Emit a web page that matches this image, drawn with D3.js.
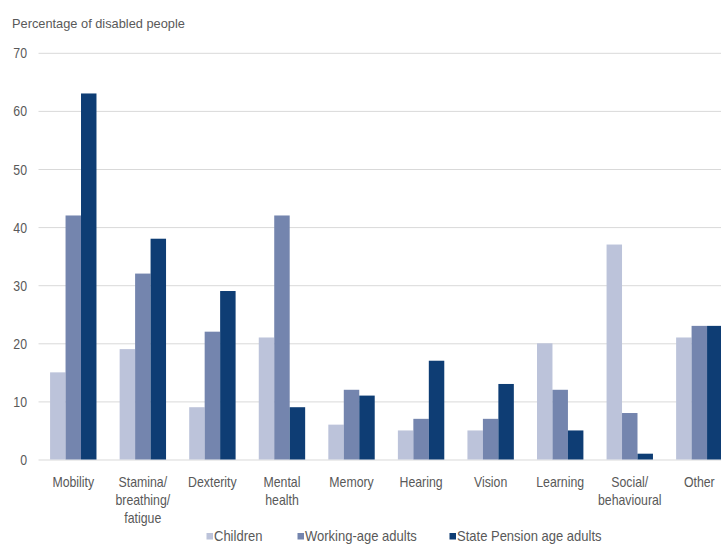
<!DOCTYPE html>
<html>
<head>
<meta charset="utf-8">
<script src="https://cdn.jsdelivr.net/npm/d3@7"></script>
<style>
  html, body { margin: 0; padding: 0; background: #fff; overflow: hidden; }
  svg { display: block; }
  text { font-family: "Liberation Sans", Arial, sans-serif; fill: #595959; }
</style>
</head>
<body>
<svg id="chart" width="721" height="545"></svg>
<script>
// ---- data ----
const categories = ["Mobility", "Stamina/breathing/fatigue", "Dexterity", "Mental health", "Memory", "Hearing", "Vision", "Learning", "Social/behavioural", "Other"];
const categoryLabelLines = [["Mobility"], ["Stamina/", "breathing/", "fatigue"], ["Dexterity"], ["Mental", "health"], ["Memory"], ["Hearing"], ["Vision"], ["Learning"], ["Social/", "behavioural"], ["Other"]];
const seriesNames = ["Children", "Working-age adults", "State Pension age adults"];
const children = [15, 19, 9, 21, 6, 5, 5, 20, 37, 21];
const workingAge = [42, 32, 22, 42, 12, 7, 7, 12, 8, 23];
const statePension = [63, 38, 29, 9, 11, 17, 13, 5, 1, 23];
const yTicks = [0, 10, 20, 30, 40, 50, 60, 70];
const yTitle = "Percentage of disabled people";
const colors = ["#bcc3da", "#7485ae", "#0e3d74"];

const seriesValues = [children, workingAge, statePension];

const svg = d3.select("#chart");
const W = 721, H = 545;
const plotLeft = 38.5, plotRight = 734.1;
const yBottom = 459.5, yTop = 52.8;
const SX = 0.88;

const x = d3.scaleBand().domain(categories).range([plotLeft, plotRight])
  .paddingInner(0.333).paddingOuter(0.1665);
const xs = d3.scaleBand().domain(seriesNames).range([0, x.bandwidth()]).padding(0);
const y = d3.scaleLinear().domain([0, 70]).range([yBottom, yTop]);
const color = d3.scaleOrdinal().domain(seriesNames).range(colors);

// gridlines + y axis labels
const yAxis = svg.append("g")
  .attr("transform", `translate(${plotLeft},0)`)
  .call(d3.axisLeft(y).tickValues(yTicks).tickSize(-(W - plotLeft)).tickPadding(0).tickFormat(d3.format("d")));
yAxis.select(".domain").remove();
yAxis.selectAll(".tick line").attr("stroke", "#d9d9d9").attr("stroke-width", 1);
yAxis.selectAll(".tick text")
  .attr("x", 0).attr("dy", null)
  .attr("transform", `translate(-11.5,5) scale(${SX},1)`)
  .style("font-size", "14px").attr("fill", "#595959");

// y title
svg.append("text").attr("x", 12).attr("y", 28)
  .style("font-size", "12.8px").text(yTitle);

// bars
const groups = svg.append("g").selectAll("g")
  .data(categories).join("g")
  .attr("transform", d => `translate(${x(d)},0)`);
groups.selectAll("rect")
  .data((d, i) => seriesNames.map((s, k) => ({ s, v: seriesValues[k][i] })))
  .join("rect")
  .attr("x", d => xs(d.s))
  .attr("width", xs.bandwidth())
  .attr("y", d => y(d.v))
  .attr("height", d => y(0) - y(d.v))
  .attr("fill", d => color(d.s));

// x axis labels
const xAxis = svg.append("g")
  .attr("transform", `translate(0,${yBottom})`)
  .call(d3.axisBottom(x).tickSize(0).tickPadding(0));
xAxis.select(".domain").remove();
xAxis.selectAll(".tick text").each(function(d, i) {
  const t = d3.select(this);
  t.text(null).attr("y", 0).attr("dy", null)
    .attr("transform", `translate(0,27.5) scale(${SX},1)`)
    .style("font-size", "14px").attr("fill", "#595959");
  categoryLabelLines[i].forEach((line, j) => {
    t.append("tspan").attr("x", 0).attr("y", j * 18).text(line);
  });
});

// legend
const legendX = [206.5, 297.5, 449.5];
const legend = svg.append("g").selectAll("g").data(seriesNames).join("g")
  .attr("transform", (d, i) => `translate(${legendX[i]},533)`);
legend.append("rect").attr("width", 6.5).attr("height", 6.5).attr("fill", d => color(d));
legend.append("text").attr("transform", `translate(7.5,8) scale(0.93,1)`)
  .style("font-size", "14px").text(d => d);
</script>
</body>
</html>
